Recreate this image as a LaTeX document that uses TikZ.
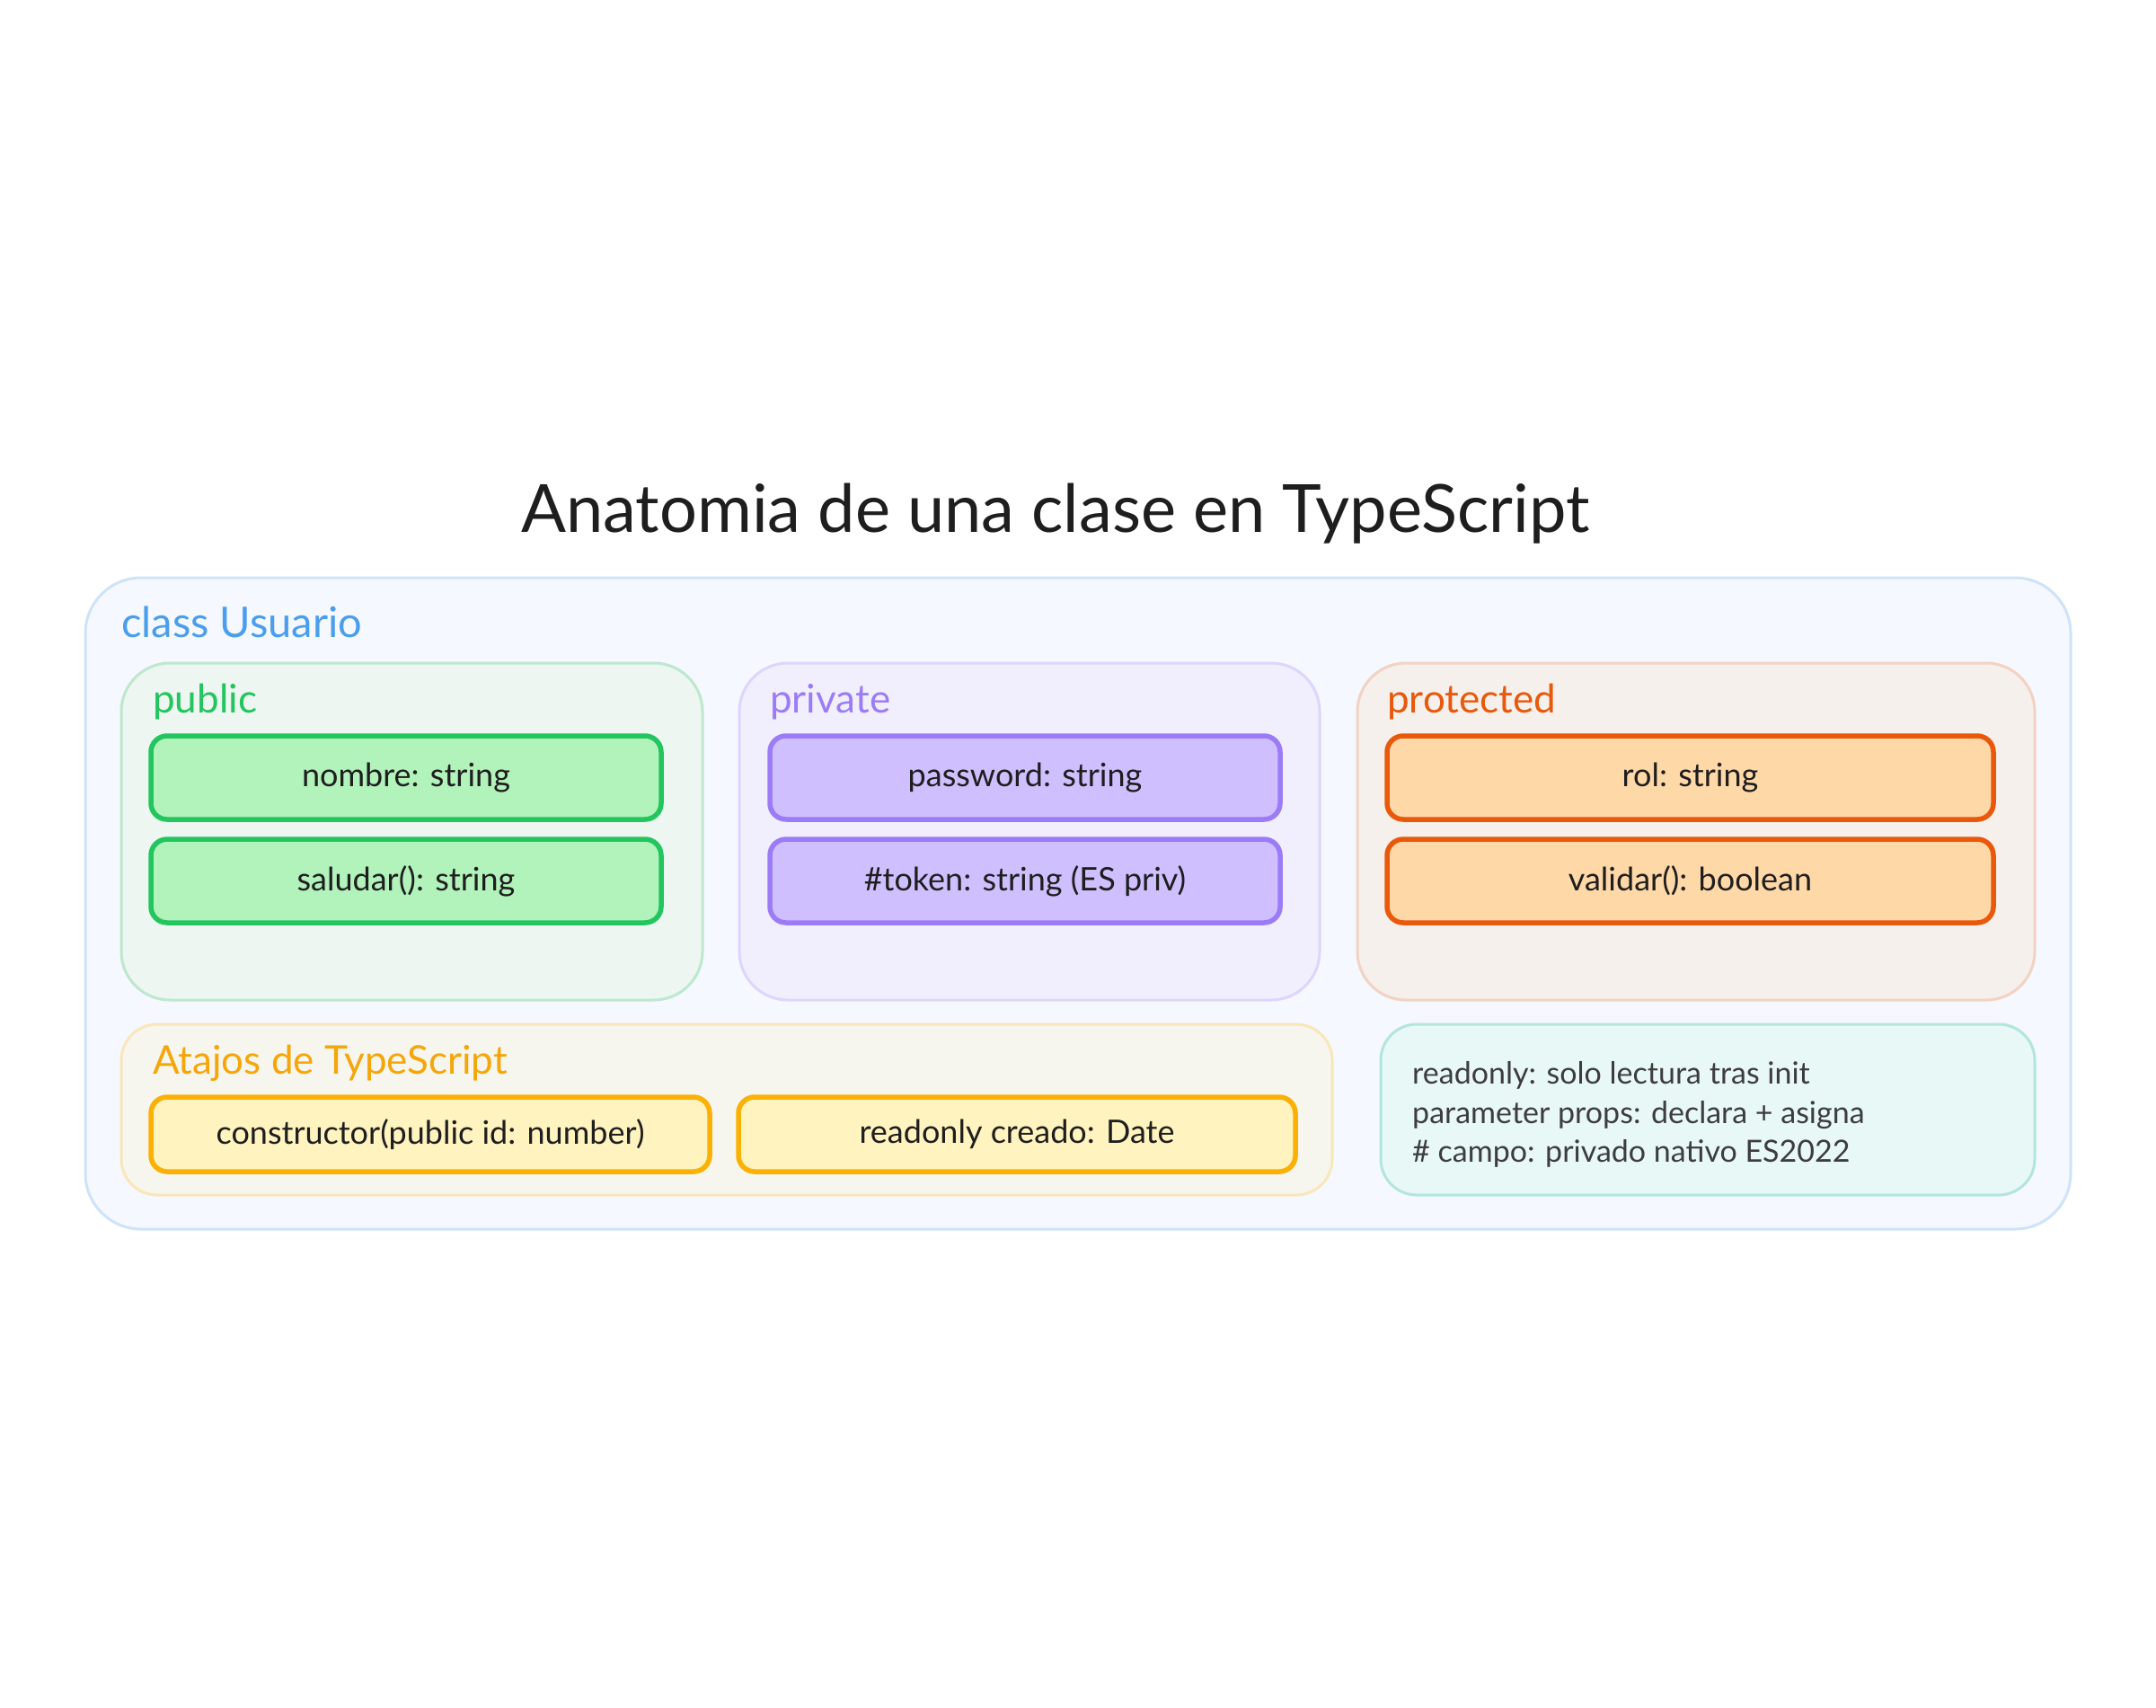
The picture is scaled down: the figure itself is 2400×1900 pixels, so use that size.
\documentclass[tikz,border=0pt]{standalone}
\usepackage{fontspec}
\setmainfont{Lato}
\definecolor{outerfill}{HTML}{F5F8FE}
\definecolor{outerdraw}{HTML}{CFE3F8}
\definecolor{blueT}{HTML}{4A9EED}
\definecolor{pubfill}{HTML}{EDF6F1}
\definecolor{pubdraw}{HTML}{BDE8CE}
\definecolor{greenT}{HTML}{22C55E}
\definecolor{greenfill}{HTML}{B2F2BB}
\definecolor{privfill}{HTML}{F1EFFD}
\definecolor{privdraw}{HTML}{DDD5FD}
\definecolor{purpleT}{HTML}{9B7CF6}
\definecolor{purplefill}{HTML}{D0BFFF}
\definecolor{protfill}{HTML}{F6F0EC}
\definecolor{protdraw}{HTML}{F2D2C3}
\definecolor{orangeT}{HTML}{E8590C}
\definecolor{orangefill}{HTML}{FFD8A8}
\definecolor{atfill}{HTML}{F7F6EE}
\definecolor{atdraw}{HTML}{F9E6B9}
\definecolor{yellowT}{HTML}{F5A60A}
\definecolor{yellowD}{HTML}{FAB005}
\definecolor{yellowfill}{HTML}{FFF3BF}
\definecolor{notefill}{HTML}{E8F8F6}
\definecolor{notedraw}{HTML}{B2E6DC}
\definecolor{textD}{HTML}{1E1E1E}
\definecolor{noteT}{HTML}{3D3D3D}
\begin{document}
\begin{tikzpicture}[x=1pt,y=-1pt,
  panel/.style={draw, line width=3pt, rounded corners=54pt, inner sep=0pt},
  item/.style={draw, line width=5.5pt, rounded corners=18pt, inner sep=0pt, text=textD,
     font=\fontsize{36}{42}\selectfont},
  lab/.style={anchor=west, inner sep=0pt, font=\fontsize{44}{50}\selectfont},
  note/.style={anchor=west, inner sep=0pt, text=noteT, font=\fontsize{34}{40}\selectfont}]
\useasboundingbox[fill=white] (0,0) rectangle (2400,1900);
\node (title) [inner sep=0pt, text=textD, font=\fontsize{74}{84}\selectfont] at (1175,572) {Anatomia de una clase en TypeScript};
% outer class box
\node (outer) [panel, draw=outerdraw, fill=outerfill, rounded corners=62pt, minimum width=2210pt, minimum height=725pt] at (1200,1005.5) {};
\node (classlab) [lab, text=blueT, font=\fontsize{47}{52}\selectfont] at (135,692) {class Usuario};
% public
\node (pub) [panel, draw=pubdraw, fill=pubfill, minimum width=647pt, minimum height=375pt] at (458.5,925.5) {};
\node (publab) [lab, text=greenT] at (170,781) {public};
\node (nombre) [item, draw=greenT, fill=greenfill, minimum width=568pt, minimum height=93pt] at (452,865.5) {nombre: string};
\node (saludar) [item, draw=greenT, fill=greenfill, minimum width=568pt, minimum height=93pt] at (452,980.5) {saludar(): string};
% private
\node (priv) [panel, draw=privdraw, fill=privfill, minimum width=646pt, minimum height=375pt] at (1146,925.5) {};
\node (privlab) [lab, text=purpleT] at (857,781) {private};
\node (password) [item, draw=purpleT, fill=purplefill, minimum width=568pt, minimum height=93pt] at (1141,865.5) {password: string};
\node (token) [item, draw=purpleT, fill=purplefill, minimum width=568pt, minimum height=93pt] at (1141,980.5) {\#token: string (ES priv)};
% protected
\node (prot) [panel, draw=protdraw, fill=protfill, minimum width=754pt, minimum height=375pt] at (1888,925.5) {};
\node (protlab) [lab, text=orangeT] at (1544,781) {protected};
\node (rol) [item, draw=orangeT, fill=orangefill, minimum width=675pt, minimum height=93pt] at (1881.5,865.5) {rol: string};
\node (validar) [item, draw=orangeT, fill=orangefill, minimum width=675pt, minimum height=93pt] at (1881.5,980.5) {validar(): boolean};
% atajos
\node (atajos) [panel, draw=atdraw, fill=atfill, rounded corners=40pt, minimum width=1348pt, minimum height=190pt] at (809,1235) {};
\node (atlab) [lab, text=yellowT] at (170,1183) {Atajos de TypeScript};
\node (ctor) [item, draw=yellowD, fill=yellowfill, minimum width=622pt, minimum height=83pt] at (479,1262.5) {constructor(public id: number)};
\node (creado) [item, draw=yellowD, fill=yellowfill, minimum width=620pt, minimum height=83pt] at (1132,1262.5) {readonly creado: Date};
% notes
\node (notes) [panel, draw=notedraw, fill=notefill, rounded corners=40pt, minimum width=728pt, minimum height=190pt] at (1901,1235) {};
\node (n1) [note] at (1572,1197) {readonly: solo lectura tras init};
\node (n2) [note] at (1572,1241) {parameter props: declara + asigna};
\node (n3) [note] at (1572,1284) {\# campo: privado nativo ES2022};
\end{tikzpicture}
\end{document}
